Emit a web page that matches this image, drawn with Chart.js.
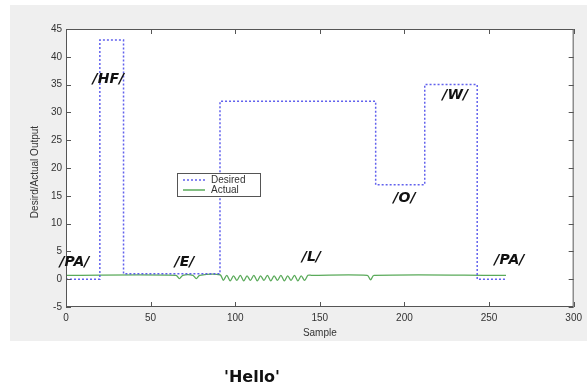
<!DOCTYPE html>
<html>
<head>
<meta charset="utf-8">
<script src="https://cdn.jsdelivr.net/npm/chart.js@4/dist/chart.umd.min.js"></script>
<style>html,body{margin:0;padding:0;background:#fff;}</style>
</head>
<body>
<canvas id="myChart" width="587" height="389"></canvas>
<script>
// desired output (step trace)
const desiredX = [0, 20, 20, 34, 34, 91, 91, 183, 183, 212, 212, 243, 243, 260];
const desiredY = [0, 0, 43, 43, 1, 1, 32, 32, 17, 17, 35, 35, 0, 0];

// actual output (flat with small ripples)
const actualX = [0, 65, 67, 69, 75, 77, 79, 91, 93, 95, 97, 99, 101, 103, 105, 107, 109, 111, 113, 115, 117, 119,
	121, 123, 125, 127, 129, 131, 133, 135, 137, 139, 141, 143, 145, 178, 180, 182, 260];
const actualY = [0.7, 0.7, 0.1, 0.7, 0.7, 0.1, 0.7, 0.8, -0.2, 0.7, -0.3, 0.6, -0.2, 0.7, -0.3, 0.6, -0.2, 0.7,
	-0.3, 0.6, -0.2, 0.7, -0.3, 0.6, -0.2, 0.7, -0.3, 0.6, -0.2, 0.7, -0.3, 0.6, -0.2, 0.7, 0.7, 0.7, -0.1, 0.7, 0.7];

// phoneme labels
const labelText = ['/PA/', '/HF/', '/E/', '/L/', '/O/', '/W/', '/PA/'];
const labelX = [5, 25, 70, 145, 200, 230, 262];
const labelY = [3, 36, 3, 4, 14.5, 33, 3.3];

const xTicks = [0, 50, 100, 150, 200, 250, 300];
const yTicks = [-5, 0, 5, 10, 15, 20, 25, 30, 35, 40, 45];

const toPoints = (xs, ys) => xs.map((x, i) => ({ x: x, y: ys[i] }));

const blue = 'rgba(80, 80, 235, 0.9)';
const green = 'rgb(90, 170, 90)';

const figurePlugin = {
	id: 'figure',
	beforeDraw(chart) {
		const c = chart.ctx;
		const a = chart.chartArea;
		c.save();
		c.fillStyle = '#efefef';
		c.fillRect(10, 5, 577, 336);
		c.fillStyle = '#ffffff';
		c.fillRect(a.left, a.top, a.right - a.left, a.bottom - a.top);
		c.restore();
	},
	afterDraw(chart) {
		const c = chart.ctx;
		const a = chart.chartArea;
		const xs = chart.scales.x;
		const ys = chart.scales.y;
		c.save();
		// axes box
		c.strokeStyle = '#555';
		c.lineWidth = 1;
		c.strokeRect(a.left + 0.5, a.top + 0.5, a.right - a.left - 1, a.bottom - a.top - 1);
		// inward ticks
		c.beginPath();
		xTicks.forEach(v => {
			const px = Math.round(xs.getPixelForValue(v)) + 0.5;
			c.moveTo(px, a.bottom); c.lineTo(px, a.bottom - 5);
			c.moveTo(px, a.top); c.lineTo(px, a.top + 5);
		});
		yTicks.forEach(v => {
			const py = Math.round(ys.getPixelForValue(v)) + 0.5;
			c.moveTo(a.left, py); c.lineTo(a.left + 5, py);
			c.moveTo(a.right, py); c.lineTo(a.right - 5, py);
		});
		c.stroke();

		// phoneme labels
		c.fillStyle = '#111';
		c.font = 'italic bold 14px "DejaVu Sans"';
		c.textAlign = 'center';
		c.textBaseline = 'middle';
		labelText.forEach((t, i) => {
			c.fillText(t, xs.getPixelForValue(labelX[i]), ys.getPixelForValue(labelY[i]));
		});

		// axis titles
		c.fillStyle = '#333';
		c.font = '10px "Liberation Sans"';
		c.fillText('Sample', (a.left + a.right) / 2, 333);
		c.save();
		c.translate(35, (a.top + a.bottom) / 2 + 4);
		c.rotate(-Math.PI / 2);
		c.fillText('Desird/Actual Output', 0, 0);
		c.restore();

		// legend
		c.fillStyle = '#fff';
		c.fillRect(177, 173, 83, 23);
		c.strokeStyle = '#555';
		c.strokeRect(177.5, 173.5, 83, 23);
		c.lineWidth = 1.5;
		c.strokeStyle = blue;
		c.setLineDash([2, 2]);
		c.beginPath(); c.moveTo(183, 180); c.lineTo(205, 180); c.stroke();
		c.setLineDash([]);
		c.strokeStyle = green;
		c.beginPath(); c.moveTo(183, 190); c.lineTo(205, 190); c.stroke();
		c.fillStyle = '#333';
		c.textAlign = 'left';
		c.fillText('Desired', 211, 180);
		c.fillText('Actual', 211, 190);

		// caption
		c.fillStyle = '#111';
		c.font = 'bold 16px "DejaVu Sans"';
		c.textAlign = 'center';
		c.fillText("'Hello'", 252, 378);
		c.restore();
	}
};

const ctx = document.getElementById('myChart');

new Chart(ctx, {
	type: 'line',
	data: {
		datasets: [{
			label: 'Desired',
			data: toPoints(desiredX, desiredY),
			borderColor: blue,
			borderWidth: 1.5,
			borderDash: [2, 2],
			pointRadius: 0,
			tension: 0,
			fill: false
		}, {
			label: 'Actual',
			data: toPoints(actualX, actualY),
			borderColor: green,
			borderWidth: 1.3,
			pointRadius: 0,
			tension: 0.3,
			fill: false
		}]
	},
	options: {
		responsive: false,
		animation: false,
		devicePixelRatio: 1,
		layout: { padding: { top: 29, right: 11, left: 0, bottom: 0 } },
		plugins: {
			legend: { display: false },
			tooltip: { enabled: false }
		},
		scales: {
			x: {
				type: 'linear',
				min: 0,
				max: 300,
				afterFit(scale) { scale.height = 82; },
				afterBuildTicks(scale) { scale.ticks = xTicks.map(v => ({ value: v })); },
				grid: { display: false, drawTicks: false, tickLength: 0 },
				border: { display: false },
				ticks: { padding: 5, color: '#333', font: { family: 'Liberation Sans', size: 10 }, maxRotation: 0 }
			},
			y: {
				type: 'linear',
				min: -5,
				max: 45,
				afterFit(scale) { scale.width = 66; },
				afterBuildTicks(scale) { scale.ticks = yTicks.map(v => ({ value: v })); },
				grid: { display: false, drawTicks: false, tickLength: 0 },
				border: { display: false },
				ticks: { padding: 4, color: '#333', font: { family: 'Liberation Sans', size: 10 } }
			}
		}
	},
	plugins: [figurePlugin]
});
</script>
</body>
</html>
